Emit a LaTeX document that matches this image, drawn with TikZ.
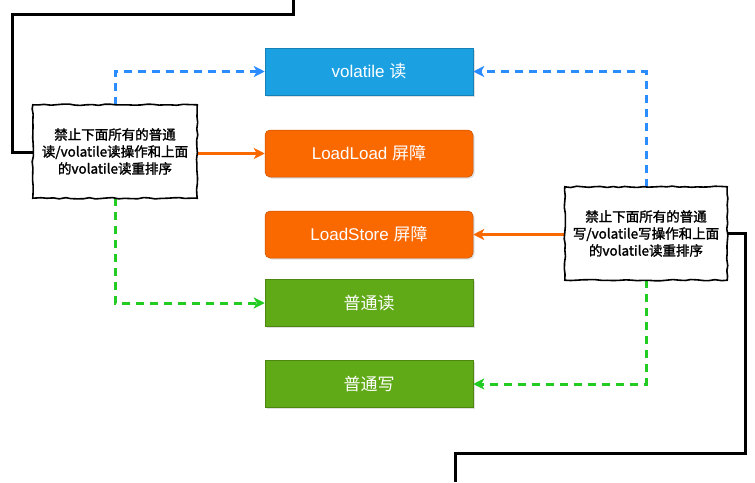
\documentclass[tikz,border=0pt]{standalone}
\usepackage{fontspec}
\setmainfont{Liberation Sans}
\newfontfamily\cjk{Noto Sans CJK SC}
\newfontfamily\cjkb[FakeBold=1.6]{Noto Sans CJK SC}
\usetikzlibrary{arrows.meta,decorations.pathmorphing,shadows}
\definecolor{dblue}{HTML}{1BA1E2}
\definecolor{dorange}{HTML}{FA6800}
\definecolor{dgreen}{HTML}{60A917}
\definecolor{lgreen}{HTML}{22CC22}
\definecolor{lblue}{HTML}{2B8CFF}
\newcommand{\zh}[1]{{\cjk #1}}
\tikzset{
  opbox/.style={minimum width=208pt,minimum height=47pt,inner sep=0pt,text=white,
    font=\fontsize{17}{19}\selectfont,draw=#1!80!black,line width=0.5pt,fill=#1,
    drop shadow={shadow xshift=1.5pt,shadow yshift=-1.5pt,opacity=0.25}},
  notebox/.style={fill=white,draw=black,line width=1.6pt,
    decorate,decoration={random steps,segment length=6pt,amplitude=0.7pt}},
  notetext/.style={align=center,font=\cjkb\fontsize{13.5}{17}\selectfont},
  conn/.style={line width=2.6pt,-{Stealth[length=11pt,width=11pt,inset=3pt]}},
  dashconn/.style={conn,line width=3pt,dash pattern=on 8pt off 6pt},
  blackline/.style={line width=3pt,black,line join=miter}
}
\begin{document}
\begin{tikzpicture}[x=1pt,y=-1pt]
\useasboundingbox (0,0) rectangle (755,482);
% boxes
\node[opbox=dblue] (vr) at (369,71.5) {volatile \zh{读}};
\node[opbox=dorange,rounded corners=5pt] (ll) at (369,153.5) {LoadLoad \zh{屏障}};
\node[opbox=dorange,rounded corners=5pt] (ls) at (369,234.5) {LoadStore \zh{屏障}};
\node[opbox=dgreen] (nr) at (369,303) {\zh{普通读}};
\node[opbox=dgreen] (nw) at (369,384) {\zh{普通写}};
% black line corner points
\coordinate (a1) at (12,152);
\coordinate (a2) at (12,14);
\coordinate (a3) at (293,14);
\coordinate (a4) at (293,0);
\coordinate (b1) at (745,233);
\coordinate (b2) at (745,453);
\coordinate (b3) at (455,453);
\coordinate (b4) at (455,482);
% note frames
\node[minimum width=164pt,minimum height=93pt] (L) at (115,151.5) {};
\node[minimum width=162pt,minimum height=93pt] (R) at (646,233.5) {};
\draw[blackline] (L.west |- a1) -- (a1) -- (a2) -- (a3) -- (a4);
\draw[blackline] (R.east |- b1) -- (b1) -- (b2) -- (b3) -- (b4);
% connectors
\draw[dashconn,lblue] (L.north) |- (vr.west);
\draw[dashconn,lblue] (R.north) |- (vr.east);
\draw[conn,dorange] (L.east |- ll) -- (ll.west);
\draw[conn,dorange] (R.west |- ls) -- (ls.east);
\draw[dashconn,lgreen] (L.south) |- (nr.west);
\draw[dashconn,lgreen] (R.south) |- (nw.east);
% note boxes on top
\draw[notebox] (L.south west) rectangle (L.north east);
\draw[notebox] (R.south west) rectangle (R.north east);
\node[notetext] (Lt) at (L) {禁止下面所有的普通\\读/volatile读操作和上面\\的volatile读重排序};
\node[notetext] (Rt) at (R) {禁止下面所有的普通\\写/volatile写操作和上面\\的volatile读重排序};
\end{tikzpicture}
\end{document}
